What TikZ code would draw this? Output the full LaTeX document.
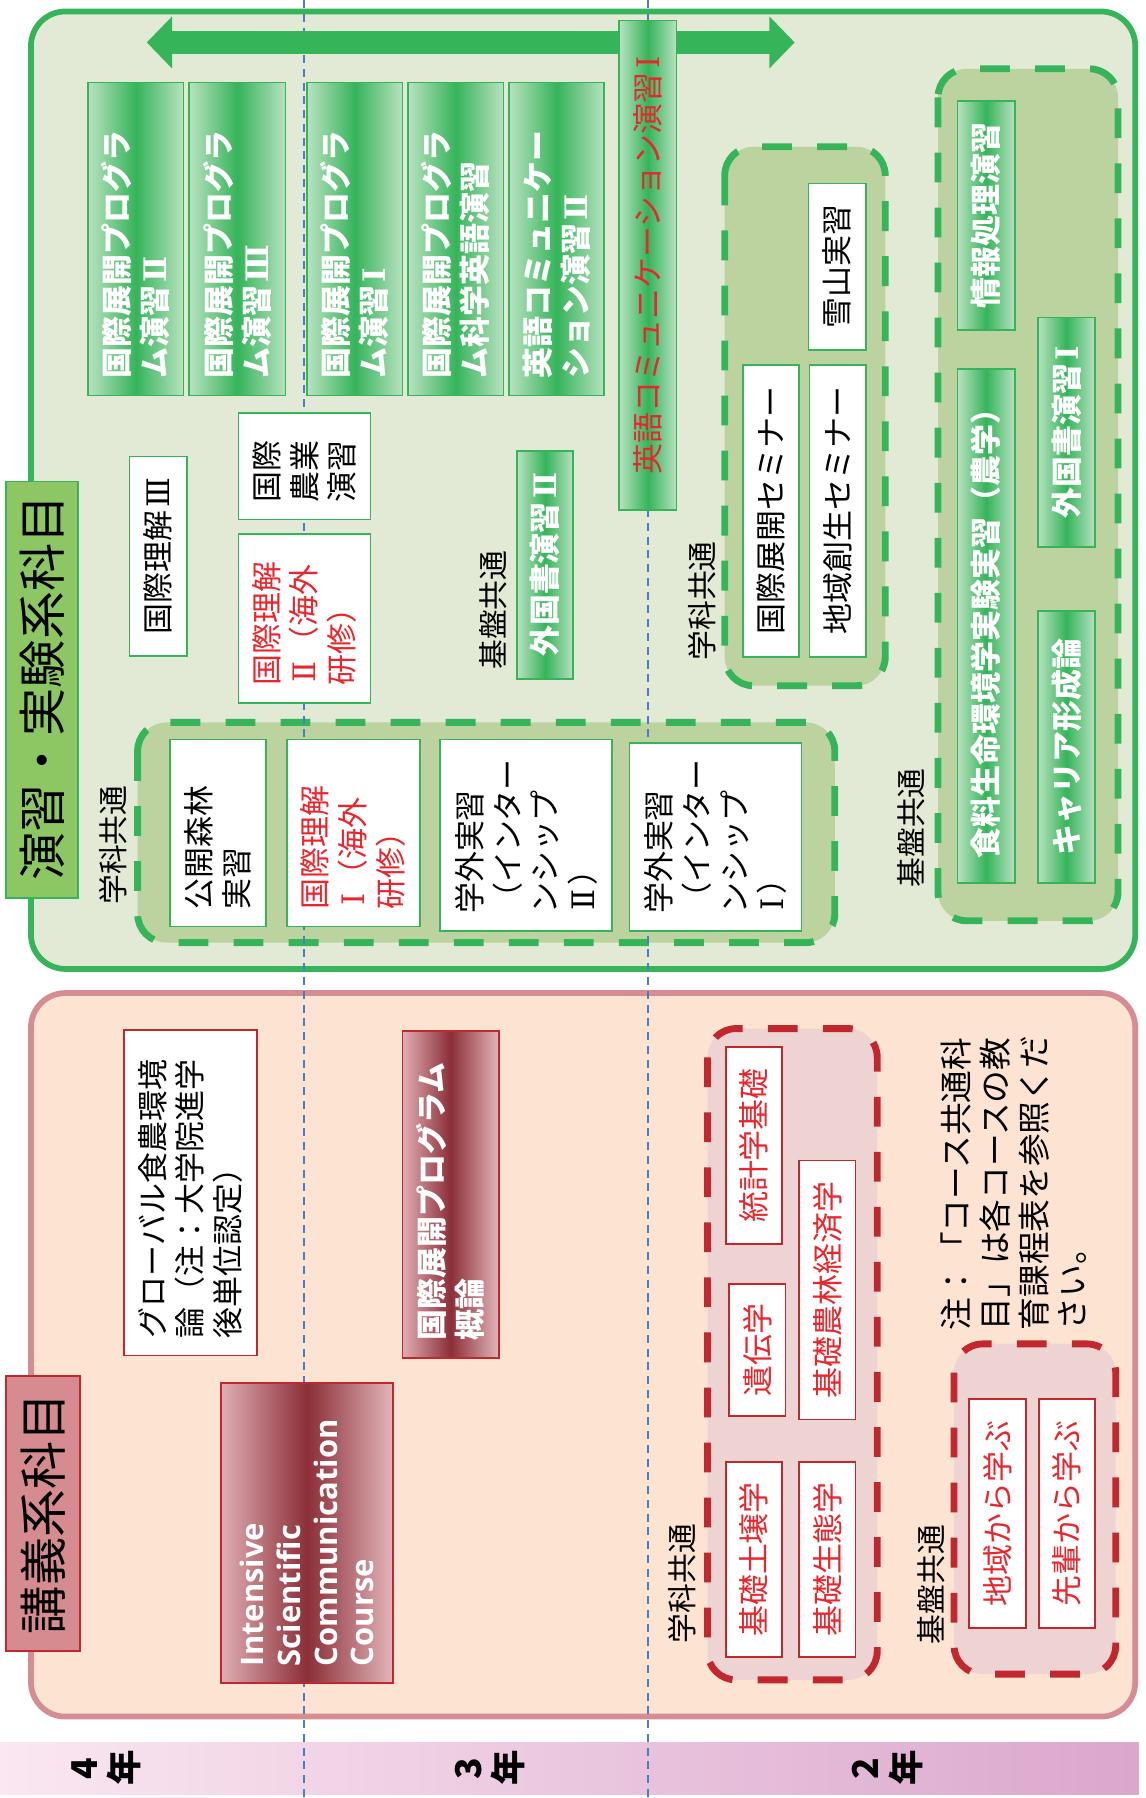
\documentclass[tikz,border=0pt]{standalone}
\usepackage{fontspec}
\setmainfont{Noto Sans CJK JP}
\newfontfamily\enfont{Open Sans}
\newfontfamily\rnfont{DejaVu Serif}
\newcommand\rn[1]{\hspace{3pt}{\rnfont #1}\hspace{3pt}}
\usetikzlibrary{arrows.meta}
\definecolor{gdk}{HTML}{35B45A}
\definecolor{glt}{HTML}{B8E2C0}
\definecolor{gpan}{HTML}{E2EAD5}
\definecolor{ggrpf}{HTML}{BCD3A0}
\definecolor{glab}{HTML}{8DC764}
\definecolor{ppan}{HTML}{FDE3D2}
\definecolor{pbord}{HTML}{D68D92}
\definecolor{rgrpf}{HTML}{EED3D3}
\definecolor{rdk}{HTML}{C1272D}
\definecolor{rtx}{HTML}{E8262C}
\definecolor{rmid}{HTML}{8B2E37}
\definecolor{rlt}{HTML}{E0ADB3}
\definecolor{plab}{HTML}{D68B91}
\definecolor{vblue}{HTML}{4A7EC2}
\definecolor{ylt}{HTML}{FAE7F1}
\definecolor{ydk}{HTML}{DBA7CD}
\tikzset{
  every node/.style={inner sep=0pt, outer sep=0pt},
  txt/.style={rotate=90, font=\fontsize{27}{33}\selectfont, align=left},
  wt/.style={text=white, font=\fontsize{27}{33}\selectfont\bfseries},
  kt/.style={text=black},
  rt/.style={text=rtx},
  ct/.style={align=center},
  gbox/.style={draw=gdk, line width=1.5pt, left color=glt, right color=glt, middle color=gdk, rectangle},
  rbox/.style={draw=rdk, line width=1.5pt, left color=rlt, right color=rlt!90!white, middle color=rmid, rectangle},
  wbox/.style={draw=gdk, line width=1.5pt, fill=white, rectangle},
  wboxr/.style={draw=rdk, line width=1.5pt, fill=white, rectangle},
  glabbox/.style={draw=gdk, line width=1.5pt, fill=glab, rectangle},
  plabbox/.style={draw=rdk, line width=1.5pt, fill=plab, rectangle},
  biglab/.style={text=black, align=center, font=\fontsize{42}{50}\selectfont},
  gpanel/.style={draw=gdk, line width=5pt, fill=gpan, rounded corners=30pt},
  ppanel/.style={draw=pbord, line width=5pt, fill=ppan, rounded corners=30pt},
  ggrp/.style={draw=gdk, line width=6pt, fill=ggrpf, rounded corners=25pt, dash pattern=on 26pt off 22pt},
  rgrp/.style={draw=rdk, line width=6pt, fill=rgrpf, rounded corners=25pt, dash pattern=on 26pt off 22pt},
  vline/.style={draw=vblue, line width=1.6pt, dash pattern=on 7pt off 5pt},
  grouplab/.style={rotate=90, text=black, font=\fontsize{26}{33}\selectfont},
  yearlab/.style={rotate=90, text=black, align=center, font=\fontsize{31}{35}\selectfont\bfseries},
  garrow/.style={draw=gdk, line width=20pt, {Triangle[length=22pt,width=44pt]}-{Triangle[length=22pt,width=44pt]}}
}
% #1 name, #2 box style, #3 x1, #4 y1, #5 x2, #6 y2, #7 text style, #8 text
\newcommand\bx[8]{%
  \pgfmathsetmacro\bxw{#5-#3}%
  \pgfmathsetmacro\bxh{#6-#4}%
  \pgfmathsetmacro\bxt{#6-#4-30}%
  \node[#2, minimum width=\bxw pt, minimum height=\bxh pt] (#1) at ({(#3+#5)/2},{(#4+#6)/2}) {};
  \node[txt, #7, text width=\bxt pt] (#1t) at (#1.center) {#8};%
}
\begin{document}
\begin{tikzpicture}[x=1pt,y=-1pt]
\useasboundingbox (0,0) rectangle (999,1568);
\fill[white] (0,0) rectangle (999,1568);
% year strip
\shade[left color=ylt, right color=ydk] (0,1520) rectangle (993,1565);
% panels
\path[gpanel] (27,10) rectangle (990,845);
\path[ppanel] (27,866) rectangle (990,1497);
% groups
\path[ggrp] (120,630) rectangle (728,822);
\path[ggrp] (632,128) rectangle (772,598);
\path[ggrp] (818,60) rectangle (975,803);
\path[rgrp] (617,897) rectangle (765,1465);
\path[rgrp] (832,1172) rectangle (973,1460);
% vertical dashed lines
\coordinate (v1a) at (265,0); \coordinate (v1b) at (265,1568);
\coordinate (v2a) at (565,0); \coordinate (v2b) at (565,1568);
\draw[vline] (v1a) -- (v1b);
\draw[vline] (v2a) -- (v2b);
% arrow
\coordinate (arL) at (128,37); \coordinate (arR) at (693,37);
\draw[garrow] (arL) -- (arR);
% labels of panels
\bx{lab1}{glabbox}{5}{420}{68}{783}{biglab}{演習・実験系科目}
\bx{lab2}{plabbox}{5}{1200}{70}{1440}{biglab}{講義系科目}
% top green row
\bx{g1}{gbox}{77}{72}{160}{345}{wt}{国際展開プログラ\\ム演習\rn{Ⅱ}}
\bx{g2}{gbox}{165}{72}{249}{345}{wt}{国際展開プログラ\\ム演習\rn{Ⅲ}}
\bx{g3}{gbox}{268}{72}{351}{345}{wt}{国際展開プログラ\\ム演習\rn{Ⅰ}}
\bx{g4}{gbox}{356}{72}{439}{345}{wt}{国際展開プログラ\\ム科学英語演習}
\bx{g5}{gbox}{444}{72}{527}{345}{wt}{英語コミュニケー\\ション演習\rn{Ⅱ}}
\bx{g6}{gbox}{540}{18}{590}{445}{rt,ct}{英語コミュニケーション演習\rn{Ⅰ}}
% middle
\bx{w1}{wbox}{113}{398}{163}{572}{kt,ct}{国際理解\rn{Ⅲ}}
\bx{w2}{wbox}{208}{360}{323}{453}{kt}{国際\\農業\\演習}
\bx{w3}{wbox}{208}{466}{323}{613}{rt}{国際理解\\\rn{Ⅱ}（海外\\研修）}
\bx{g7}{gbox}{451}{393}{500}{592}{wt,ct}{外国書演習\rn{Ⅱ}}
\node[grouplab] (kb1) at (430,532) {基盤共通};
% group 1
\node[grouplab] (gk1) at (99,737) {学科共通};
\bx{w4}{wbox}{148}{645}{232}{808}{kt}{公開森林\\実習}
\bx{w5}{wbox}{250}{645}{366}{808}{rt}{国際理解\\\rn{Ⅰ}（海外\\研修）}
\bx{w6}{wbox}{384}{645}{534}{812}{kt}{学外実習\\（インター\\ンシップ\\\rn{Ⅱ}）}
\bx{w7}{wbox}{549}{648}{699}{812}{kt}{学外実習\\（インター\\ンシップ\\\rn{Ⅰ}）}
% group 2
\bx{w8}{wbox}{705}{160}{755}{305}{kt,ct}{雪山実習}
\bx{w9}{wbox}{648}{318}{697}{573}{kt,ct}{国際展開セミナー}
\bx{w10}{wbox}{706}{318}{755}{573}{kt,ct}{地域創生セミナー}
\node[grouplab] (gk2) at (612,524) {学科共通};
% group 3
\bx{g8}{gbox}{835}{88}{885}{288}{wt,ct}{情報処理演習}
\bx{g9}{gbox}{905}{277}{955}{477}{wt,ct}{外国書演習\rn{Ⅰ}}
\bx{g10}{gbox}{835}{322}{885}{770}{wt,ct}{食料生命環境学実験実習（農学）}
\bx{g11}{gbox}{905}{533}{955}{770}{wt,ct}{キャリア形成論}
\node[grouplab] (kb2) at (795,722) {基盤共通};
% lecture panel
\bx{w11}{wboxr}{108}{898}{224}{1182}{kt}{グローバル食農環境\\論（注：大学院進学\\後単位認定）}
\bx{r1}{rbox}{351}{899}{435}{1184}{wt}{国際展開プログラム\\概論}
\bx{r2}{rbox}{193}{1206}{343}{1468}{wt,font=\enfont\fontsize{27}{32}\selectfont\bfseries}{Intensive\\Scientific\\Communication\\Course}
% group 4
\bx{w12}{wboxr}{633}{913}{682}{1085}{rt,ct}{統計学基礎}
\bx{w13}{wboxr}{636}{1120}{685}{1235}{rt,ct}{遺伝学}
\bx{w14}{wboxr}{697}{1012}{746}{1238}{rt,ct}{基礎農林経済学}
\bx{w15}{wboxr}{633}{1275}{682}{1445}{rt,ct}{基礎土壌学}
\bx{w16}{wboxr}{697}{1275}{746}{1445}{rt,ct}{基礎生態学}
\node[grouplab] (gk3) at (595,1381) {学科共通};
% note
\node[txt, kt, text width=272pt, font=\fontsize{28.5}{34}\selectfont] (note) at (884,1024) {注：「コース共通科\\目」は各コースの教\\育課程表を参照くだ\\さい。};
% group 5
\bx{w17}{wboxr}{845}{1220}{895}{1420}{rt,ct}{地域から学ぶ}
\bx{w18}{wboxr}{906}{1220}{955}{1420}{rt,ct}{先輩から学ぶ}
\node[grouplab] (kb3) at (812,1382) {基盤共通};
% years
\node[yearlab] (y4) at (93,1542) {4\\年};
\node[yearlab] (y3) at (427,1542) {3\\年};
\node[yearlab] (y2) at (774,1542) {2\\年};
\end{tikzpicture}
\end{document}
